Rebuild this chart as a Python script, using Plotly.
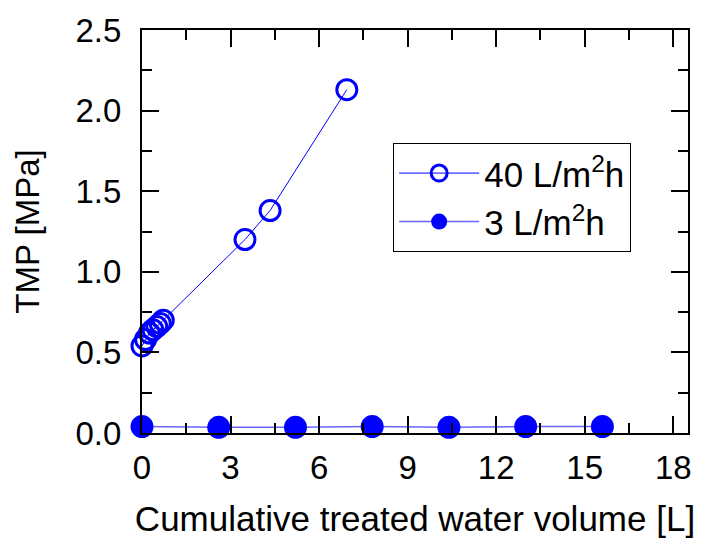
import plotly.graph_objects as go

# 40 L/m2h series
vol_40 = [0.0, 0.12, 0.25, 0.37, 0.50, 0.62, 0.72, 3.49, 4.34, 6.94]
tmp_40 = [0.54, 0.58, 0.62, 0.64, 0.66, 0.68, 0.70, 1.20, 1.38, 2.13]
# 3 L/m2h series
vol_3 = [0.0, 2.6, 5.2, 7.8, 10.4, 13.0, 15.6]
tmp_3 = [0.04, 0.035, 0.035, 0.04, 0.035, 0.04, 0.04]

x_ticks = [0, 3, 6, 9, 12, 15, 18]
y_ticks = [0.0, 0.5, 1.0, 1.5, 2.0, 2.5]
y_tick_labels = ["0.0", "0.5", "1.0", "1.5", "2.0", "2.5"]

FONT = "Liberation Sans, Arial, sans-serif"
BLUE = "#0000FF"

fig = go.Figure()
fig.add_trace(go.Scatter(
    x=vol_40, y=tmp_40, mode="lines+markers", name="40 L/m<sup>2</sup>h",
    line=dict(color=BLUE, width=1),
    marker=dict(symbol="circle-open", size=20, color=BLUE, line=dict(width=3, color=BLUE)),
    cliponaxis=False,
))
fig.add_trace(go.Scatter(
    x=vol_3, y=tmp_3, mode="lines+markers", name="3 L/m<sup>2</sup>h",
    line=dict(color="rgba(0,0,255,0.6)", width=1.5),
    marker=dict(symbol="circle", size=23, color=BLUE, line=dict(width=0)),
    cliponaxis=False,
))

axis_common = dict(
    showline=True, linecolor="black", linewidth=2, mirror="ticks",
    ticks="inside", ticklen=17, tickwidth=2, tickcolor="black",
    showgrid=False, zeroline=False,
    tickfont=dict(family=FONT, size=33, color="black"),
)

fig.update_xaxes(
    range=[0, 18.5], tickvals=x_ticks, ticktext=[str(v) for v in x_ticks],
    minor=dict(ticks="inside", ticklen=10, tickwidth=2, tickcolor="black", dtick=1.5, showgrid=False),
    title_text="Cumulative treated water volume [L]", title_standoff=22,
    title_font=dict(family=FONT, size=35, color="black"),
    ticklabelstandoff=4,
    **axis_common,
)
fig.update_yaxes(
    range=[0, 2.5], tickvals=y_ticks, ticktext=y_tick_labels,
    minor=dict(ticks="inside", ticklen=10, tickwidth=2, tickcolor="black", dtick=0.25, showgrid=False),
    title_text="TMP [MPa]", title_standoff=26,
    title_font=dict(family=FONT, size=33, color="black"),
    ticklabelstandoff=12,
    **axis_common,
)

fig.update_layout(
    width=705, height=546,
    margin=dict(l=142, r=17, t=24, b=113),
    paper_bgcolor="white", plot_bgcolor="white",
    showlegend=True,
    legend=dict(
        x=0.46, y=0.72, xanchor="left", yanchor="top",
        bordercolor="black", borderwidth=1, bgcolor="white",
        font=dict(family=FONT, size=35, color="black"),
        itemwidth=80,
    ),
)

fig.write_html("out.html")
